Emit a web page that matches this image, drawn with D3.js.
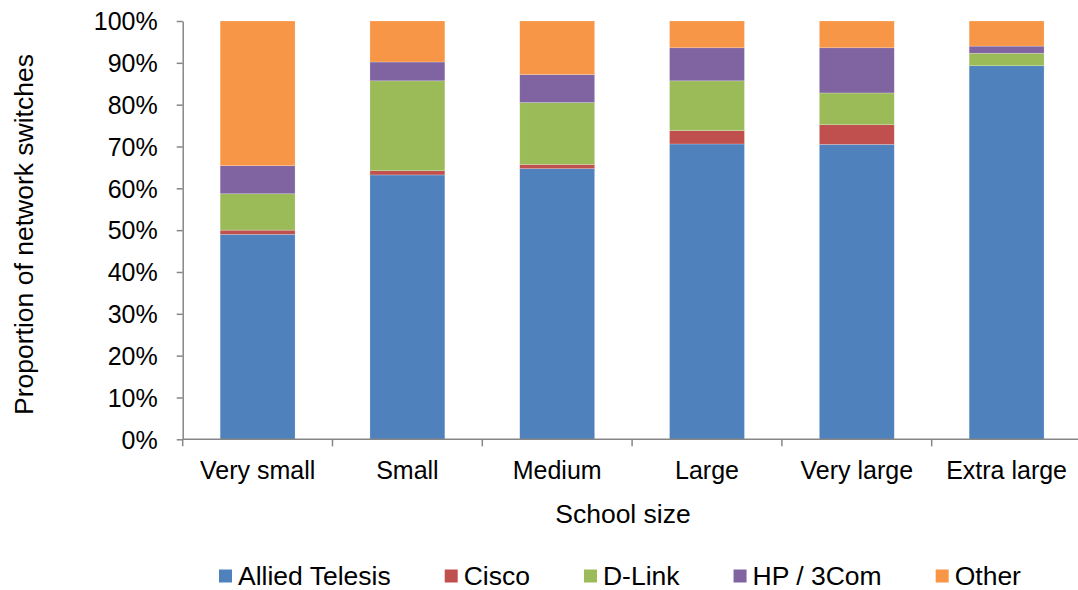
<!DOCTYPE html>
<html><head><meta charset="utf-8">
<script src="https://cdn.jsdelivr.net/npm/d3@7"></script>
<style>body{margin:0;background:#fff}svg{display:block;font-family:"Liberation Sans",Arial,sans-serif}</style>
</head><body><svg id="c" width="1078" height="590"></svg>
<script>
const categories = ["Very small","Small","Medium","Large","Very large","Extra large"];
const seriesNames = ["Allied Telesis","Cisco","D-Link","HP / 3Com","Other"];
const alliedTelesis = [49.0, 63.2, 64.7, 70.6, 70.5, 89.3];
const cisco        = [1.0, 1.0, 1.0, 3.2, 4.7, 0.0];
const dLink        = [8.7, 21.5, 14.8, 11.9, 7.6, 3.0];
const hp3Com       = [6.7, 4.5, 6.7, 7.9, 10.8, 1.7];
const other        = [34.6, 9.8, 12.8, 6.4, 6.4, 6.0];
const yTicks = [0,10,20,30,40,50,60,70,80,90,100];
const colors = ["#4F81BD","#C0504D","#9BBB59","#8064A2","#F79646"];

const seriesVals = [alliedTelesis, cisco, dLink, hp3Com, other];
const rows = categories.map((c,i)=>{const o={cat:c}; seriesNames.forEach((s,j)=>o[s]=seriesVals[j][i]); return o;});
const stack = d3.stack().keys(seriesNames)(rows);

const svg = d3.select("#c");
const x0 = 182.7, x1 = 1081.5, yTop = 21, yBot = 439.3;
const x = d3.scaleBand().domain(categories).range([x0, x1]).paddingInner(0.5).paddingOuter(0.25);
const y = d3.scaleLinear().domain([0,100]).range([yBot, yTop]);

const g = svg.append("g");
stack.forEach((layer,j)=>{
  g.selectAll(null).data(layer).join("rect")
    .attr("x", d=>x(d.data.cat))
    .attr("width", x.bandwidth())
    .attr("y", d=>y(d[1]))
    .attr("height", d=>Math.max(0, y(d[0])-y(d[1])))
    .attr("fill", colors[j])
    .attr("stroke", "rgba(255,255,255,0.35)")
    .attr("stroke-width", 0.6);
});

// y axis
const yAxis = svg.append("g").attr("transform",`translate(${x0},0)`)
  .call(d3.axisLeft(y).tickValues(yTicks).tickFormat(d=>d+"%").tickSize(6).tickSizeOuter(0));
yAxis.select(".domain").attr("stroke","#868686").attr("stroke-width",1.5);
yAxis.selectAll(".tick line").attr("stroke","#868686").attr("stroke-width",1.5);
yAxis.selectAll(".tick text").attr("font-size","25px").attr("fill","#000").attr("x",-25).attr("dy","0.35em")
  .attr("font-family","'Liberation Sans',Arial,sans-serif");

// x axis
const xb = d3.scaleLinear().domain([0,categories.length]).range([x0,x1]);
const xAxisG = svg.append("g").attr("transform",`translate(0,${yBot})`);
xAxisG.append("line").attr("x1",x0).attr("x2",x1).attr("stroke","#868686").attr("stroke-width",1.5);
xAxisG.selectAll(".xt").data(d3.range(categories.length+1)).join("line")
  .attr("x1",d=>xb(d)).attr("x2",d=>xb(d)).attr("y1",0).attr("y2",7)
  .attr("stroke","#868686").attr("stroke-width",1.5);
xAxisG.selectAll(".xl").data(categories).join("text")
  .attr("x",d=>x(d)+x.bandwidth()/2).attr("y",40).attr("text-anchor","middle")
  .attr("font-size","25px").attr("fill","#000").text(d=>d);

// titles
svg.append("text").attr("x",623).attr("y",523).attr("text-anchor","middle").attr("font-size","26.5px").text("School size");
svg.append("text").attr("transform","translate(33,234.5) rotate(-90)").attr("text-anchor","middle").attr("font-size","26.5px").text("Proportion of network switches");

// legend
let lx = 219;
const ly = 576;
seriesNames.forEach((s,j)=>{
  svg.append("rect").attr("x",lx).attr("y",ly-6.5).attr("width",13).attr("height",13).attr("fill",colors[j]);
  const t = svg.append("text").attr("x",lx+19).attr("y",ly).attr("dy","0.35em").attr("font-size","26.5px").text(s);
  lx += 19 + t.node().getComputedTextLength() + 54;
});
</script></body></html>
